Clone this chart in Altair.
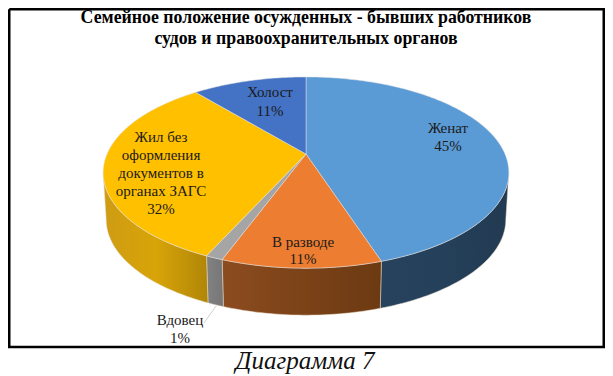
import math
import altair as alt
import pandas as pd

# ---- data ----
categories = ["Женат", "В разводе", "Вдовец", "Жил без оформления документов в органах ЗАГС", "Холост"]
shares = [45.0, 10.6, 1.15, 32.25, 11.0]
percent_labels = ["45%", "11%", "1%", "32%", "11%"]
title_lines = ["Семейное положение осужденных - бывших работников",
               "судов и правоохранительных органов"]
caption = "Диаграмма 7"

# ---- styling / layout ----
top_colors = ["#5B9BD5", "#ED7D31", "#A5A5A5", "#FFC000", "#4472C4"]
wall_stops = [
    ["#26425C", "#25405A", "#223A52"],
    ["#8C4C20", "#7C4218", "#6C3A12"],
    ["#828282", "#7C7C7C", "#767676"],
    ["#CE9C14", "#D8A408", "#B08608"],
]
OFF = 8  # page margin
CX, CY, RX, RY, K, DEPTH, SHRINK = 306 - OFF, 154 - OFF, 199, 92, 0.194, 47, 0.985
W, H = 597, 368

label_lines = [
    (448, [128, 146], ["Женат", "45%"]),
    (303, [242, 259], ["В разводе", "11%"]),
    (180, [320, 338], ["Вдовец", "1%"]),
    (161, [137, 155, 173, 191, 209], ["Жил без", "оформления", "документов в", "органах ЗАГС", "32%"]),
    (270, [92, 111], ["Холост", "11%"]),
]


def top_pt(deg):
    t = math.radians(deg)
    w = 1 + K * math.cos(t)
    return [CX + RX * math.sin(t) / w, CY - RY * math.cos(t) / w]


def bottom_pt(deg):
    x, y = top_pt(deg)
    return [CX + (x - CX) * SHRINK, y + DEPTH]


def arc(a, b, fn):
    n = max(2, int(abs(b - a)) + 1)
    return [fn(a + (b - a) * i / n) for i in range(n + 1)]


def feature(geom_type, coords):
    return {"type": "Feature", "properties": {}, "geometry": {"type": geom_type, "coordinates": coords}}


def shape(feat, **mark):
    return alt.Chart(alt.InlineData(values={"type": "FeatureCollection", "features": [feat]},
                                    format=alt.DataFormat(property="features", type="json"))).mark_geoshape(**mark)


# slice boundaries in degrees, clockwise from the top
edges = [0.0]
for s in shares:
    edges.append(edges[-1] + s / sum(shares) * 360)
VIS_A = math.degrees(math.acos(-K))
VIS_B = 360 - VIS_A

layers = []
# invisible extent: keeps the projection's automatic fit an exact 1:1 mapping
layers.append(shape(feature("LineString", [[0, 0], [W, H]]), filled=False, strokeOpacity=0, stroke="white"))

# side walls
for i in range(len(shares)):
    a, b = max(edges[i], VIS_A), min(edges[i + 1], VIS_B)
    if a >= b:
        continue
    ring = arc(a, b, top_pt) + arc(b, a, bottom_pt)
    ring.append(ring[0])
    stops = wall_stops[i]
    grad = alt.LinearGradient(
        gradient="linear", x1=0, x2=1, y1=0, y2=0,
        stops=[alt.GradientStop(color=stops[j], offset=j / 2) for j in range(3)],
    )
    layers.append(shape(feature("Polygon", [ring]), fill=grad, stroke="#E8DCCB", strokeWidth=0.5))

# top faces
for i in range(len(shares)):
    ring = [[CX, CY]] + arc(edges[i], edges[i + 1], top_pt) + [[CX, CY]]
    layers.append(shape(feature("Polygon", [ring]), fill=top_colors[i], stroke="#E3E3E3", strokeWidth=0.5))

# leader line
layers.append(shape(feature("LineString", [[216 - OFF, 306 - OFF], [204 - OFF, 323 - OFF]]),
                    filled=False, stroke="#BFBFBF", strokeWidth=0.75))
# frame
fr = [[1.25, 1.25], [W - 1.25, 1.25], [W - 1.25, 339], [1.25, 339], [1.25, 1.25]]
layers.append(shape(feature("LineString", fr), filled=False, stroke="black", strokeWidth=2.5))

# data labels
rows = []
for lx, ys, lines in label_lines:
    for y, txt in zip(ys, lines):
        rows.append({"lon": lx - OFF, "lat": y - OFF, "txt": txt})
layers.append(alt.Chart(pd.DataFrame(rows)).mark_text(
    font="Liberation Serif", fontSize=15, color="#1A1A1A", align="center", baseline="middle"
).encode(longitude="lon:Q", latitude="lat:Q", text="txt:N"))

# title
tr = pd.DataFrame({"lon": [306 - OFF] * 2, "lat": [18 - OFF, 39 - OFF], "txt": title_lines})
layers.append(alt.Chart(tr).mark_text(
    font="Liberation Serif", fontSize=17.8, fontWeight="bold", color="#000000", align="center", baseline="middle"
).encode(longitude="lon:Q", latitude="lat:Q", text="txt:N"))

# caption
cr = pd.DataFrame({"lon": [305 - OFF], "lat": [361 - OFF], "txt": [caption]})
layers.append(alt.Chart(cr).mark_text(
    font="Liberation Serif", fontSize=25, fontStyle="italic", color="#111111", align="center", baseline="middle"
).encode(longitude="lon:Q", latitude="lat:Q", text="txt:N"))

chart = alt.layer(*layers).project(type="identity", scale=1, translate=[0, 0]).properties(
    width=W, height=H, padding=0, autosize=alt.AutoSizeParams(type="none"),
    background="white", view=alt.ViewConfig(stroke=None),
)
chart.save("out.html", embed_options={"renderer": "svg", "actions": False})
